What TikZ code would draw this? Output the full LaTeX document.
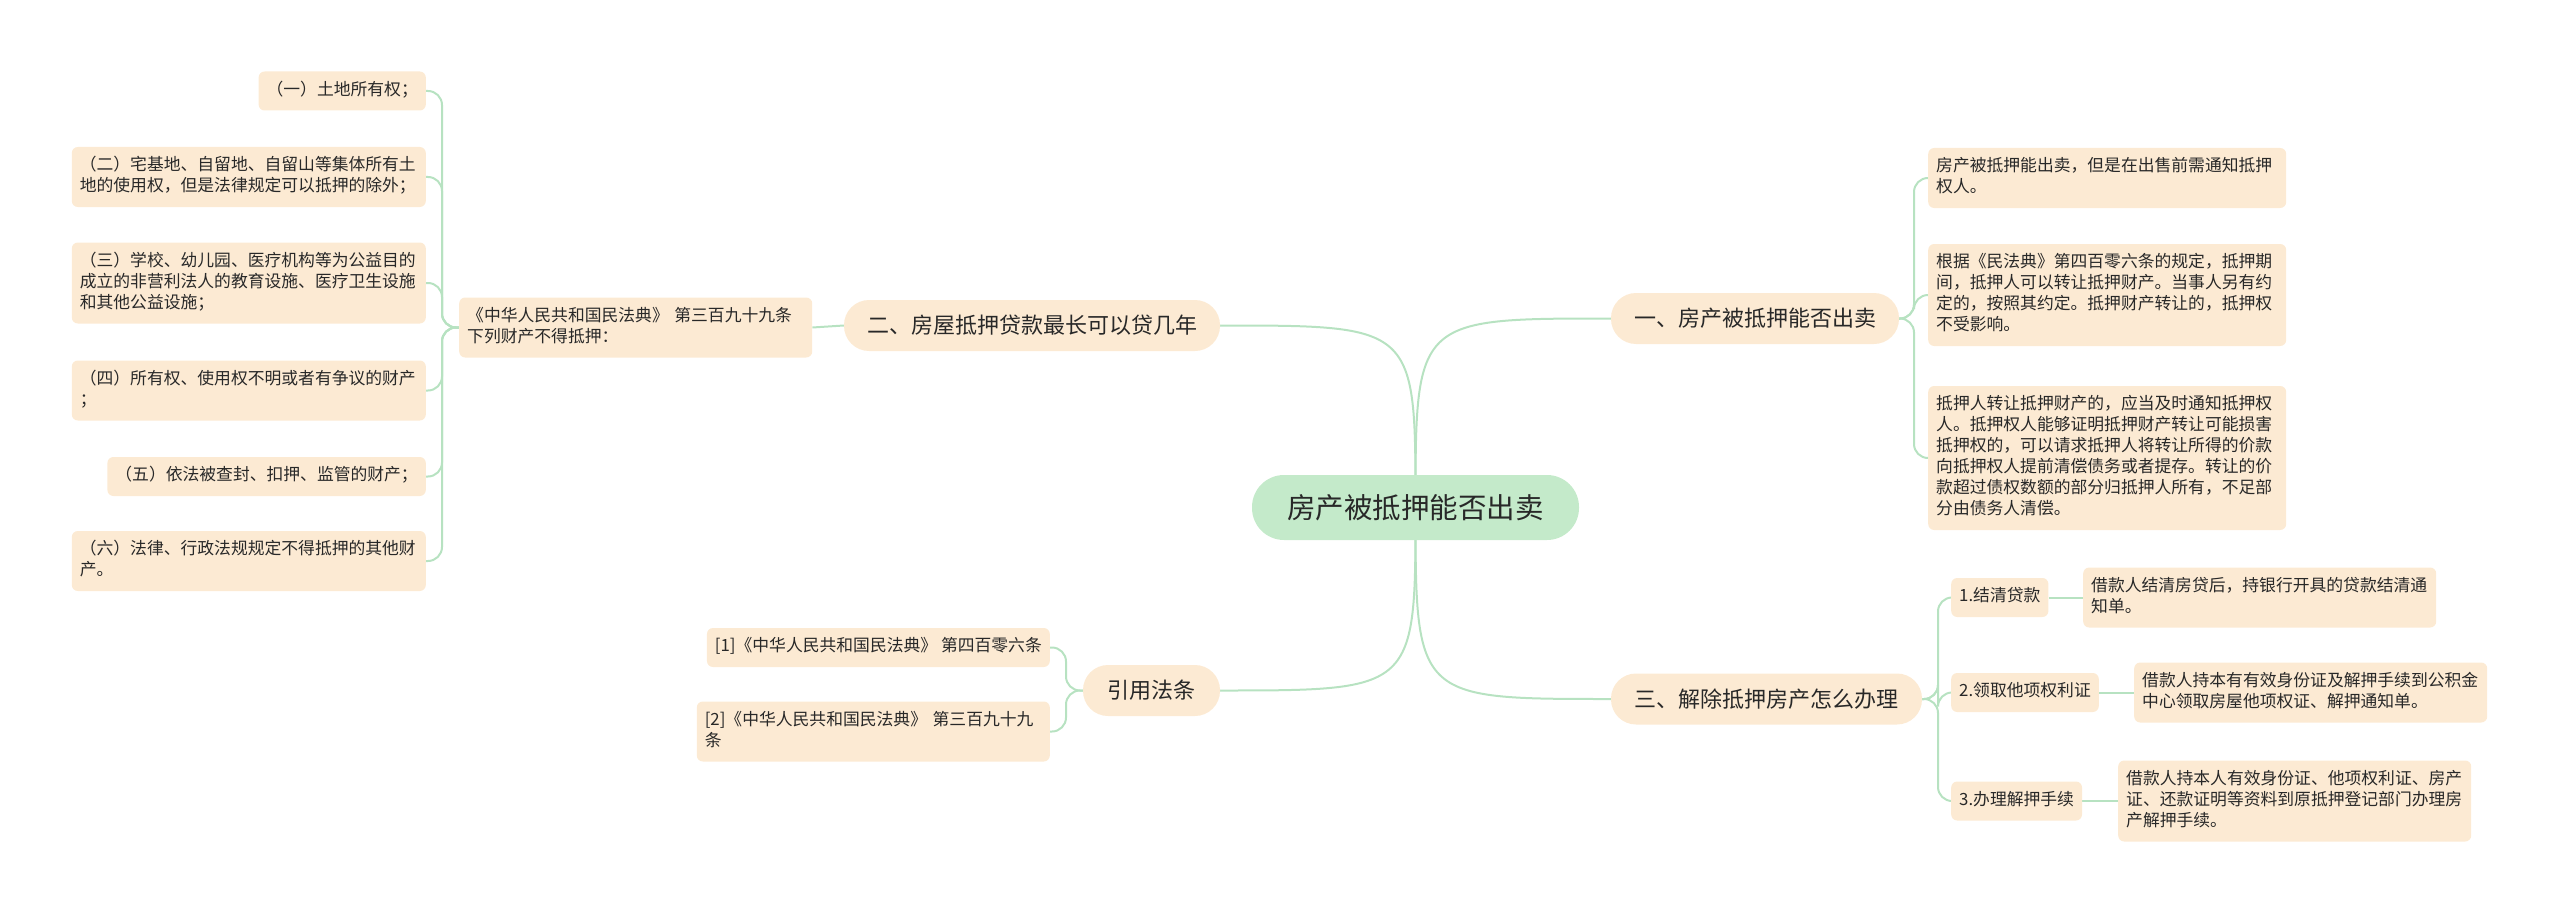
\documentclass[tikz,border=0pt]{standalone}
\usepackage{fontspec}
\setmainfont{Noto Sans CJK SC}
\usetikzlibrary{backgrounds}
\definecolor{peach}{RGB}{252,234,211}
\definecolor{rootg}{RGB}{196,234,202}
\definecolor{linec}{RGB}{183,226,193}
\definecolor{txt}{RGB}{40,40,40}
\tikzset{
  leaf/.style={fill=peach, rounded corners=6pt, inner xsep=8pt, inner ysep=9pt, align=left, text=txt,
    font=\fontsize{16.8}{21}\selectfont, execute at begin node=\strut, execute at end node=\strut},
  mid/.style={fill=peach, rounded corners=25pt, text=txt, font=\fontsize{22}{26}\selectfont,
    inner sep=0pt, minimum height=51pt},
  rootnode/.style={fill=rootg, rounded corners=32pt, text=txt, font=\fontsize{28.5}{32}\selectfont,
    inner sep=0pt, minimum height=65pt, minimum width=327pt},
  conn/.style={draw=linec, line width=2pt, rounded corners=14pt},
  rconn/.style={draw=linec, line width=2pt},
}
\begin{document}
\begin{tikzpicture}[x=1pt,y=-1pt]
\useasboundingbox (0,0) rectangle (2560,915);
% root and first level
\node[rootnode] (root) at (1415.5,507.5) {房产被抵押能否出卖};
\node[mid, minimum width=288pt] (n1) at (1755,318.5) {一、房产被抵押能否出卖};
\node[mid, minimum width=376pt] (n2) at (1032,325.5) {二、房屋抵押贷款最长可以贷几年};
\node[mid, minimum width=311pt] (n3) at (1766.5,699) {三、解除抵押房产怎么办理};
\node[mid, minimum width=137pt] (cite) at (1151.5,690.5) {引用法条};
% branch one leaves
\node[leaf, anchor=west, text width=342pt] (r1) at (1928,178) {房产被抵押能出卖，但是在出售前需通知抵押\\权人。};
\node[leaf, anchor=west, text width=342pt] (r2) at (1928,295) {根据《民法典》第四百零六条的规定，抵押期\\间，抵押人可以转让抵押财产。当事人另有约\\定的，按照其约定。抵押财产转让的，抵押权\\不受影响。};
\node[leaf, anchor=west, text width=342pt] (r3) at (1928,458) {抵押人转让抵押财产的，应当及时通知抵押权\\人。抵押权人能够证明抵押财产转让可能损害\\抵押权的，可以请求抵押人将转让所得的价款\\向抵押权人提前清偿债务或者提存。转让的价\\款超过债权数额的部分归抵押人所有，不足部\\分由债务人清偿。};
% branch two
\node[leaf, anchor=west, text width=337pt] (zh) at (459,327.5) {《中华人民共和国民法典》 第三百九十九条\\下列财产不得抵押：};
\node[leaf, anchor=east] (l1) at (426,91) {（一）土地所有权；};
\node[leaf, anchor=east, text width=338pt] (l2) at (426,177) {（二）宅基地、自留地、自留山等集体所有土\\地的使用权，但是法律规定可以抵押的除外；};
\node[leaf, anchor=east, text width=338pt] (l3) at (426,283) {（三）学校、幼儿园、医疗机构等为公益目的\\成立的非营利法人的教育设施、医疗卫生设施\\和其他公益设施；};
\node[leaf, anchor=east, text width=338pt] (l4) at (426,390.5) {（四）所有权、使用权不明或者有争议的财产\\；};
\node[leaf, anchor=east] (l5) at (426,476.5) {（五）依法被查封、扣押、监管的财产；};
\node[leaf, anchor=east, text width=338pt] (l6) at (426,561) {（六）法律、行政法规规定不得抵押的其他财\\产。};
% branch three
\node[leaf, anchor=west] (s1) at (1951,597.5) {1.结清贷款};
\node[leaf, anchor=west] (s2) at (1951,692.5) {2.领取他项权利证};
\node[leaf, anchor=west] (s3) at (1951,801) {3.办理解押手续};
\node[leaf, anchor=west, text width=337pt] (t1) at (2083,597.5) {借款人结清房贷后，持银行开具的贷款结清通\\知单。};
\node[leaf, anchor=west, text width=337pt] (t2) at (2134,692.5) {借款人持本有有效身份证及解押手续到公积金\\中心领取房屋他项权证、解押通知单。};
\node[leaf, anchor=west, text width=337pt] (t3) at (2118,801) {借款人持本人有效身份证、他项权利证、房产\\证、还款证明等资料到原抵押登记部门办理房\\产解押手续。};
% citations
\node[leaf, anchor=east] (c1) at (1050,647.5) {[1]《中华人民共和国民法典》 第四百零六条};
\node[leaf, anchor=east, text width=337pt] (c2) at (1050,731.5) {[2]《中华人民共和国民法典》 第三百九十九\\条};
\begin{pgfonlayer}{background}
  \draw[rconn] (root.center) .. controls (1415.5,318.5) .. (n1.west);
  \draw[rconn] (root.center) .. controls (1415.5,325.5) .. (n2.east);
  \draw[rconn] (root.center) .. controls (1415.5,699) .. (n3.west);
  \draw[rconn] (root.center) .. controls (1415.5,690.5) .. (cite.east);
  \foreach \r in {r1,r2,r3} \draw[conn] (n1.east) -- (1914,318.5) |- (\r.west);
  \draw[conn] (n2.west) -- (zh.east);
  \foreach \l in {l1,l2,l3,l4,l5,l6} \draw[conn] (zh.west) -- (442,327.5) |- (\l.east);
  \foreach \s in {s1,s2,s3} \draw[conn] (n3.east) -- (1938,699) |- (\s.west);
  \draw[conn] (s1.east) -- (t1.west);
  \draw[conn] (s2.east) -- (t2.west);
  \draw[conn] (s3.east) -- (t3.west);
  \foreach \c in {c1,c2} \draw[conn] (cite.west) -- (1066,690.5) |- (\c.east);
\end{pgfonlayer}
\end{tikzpicture}
\end{document}
